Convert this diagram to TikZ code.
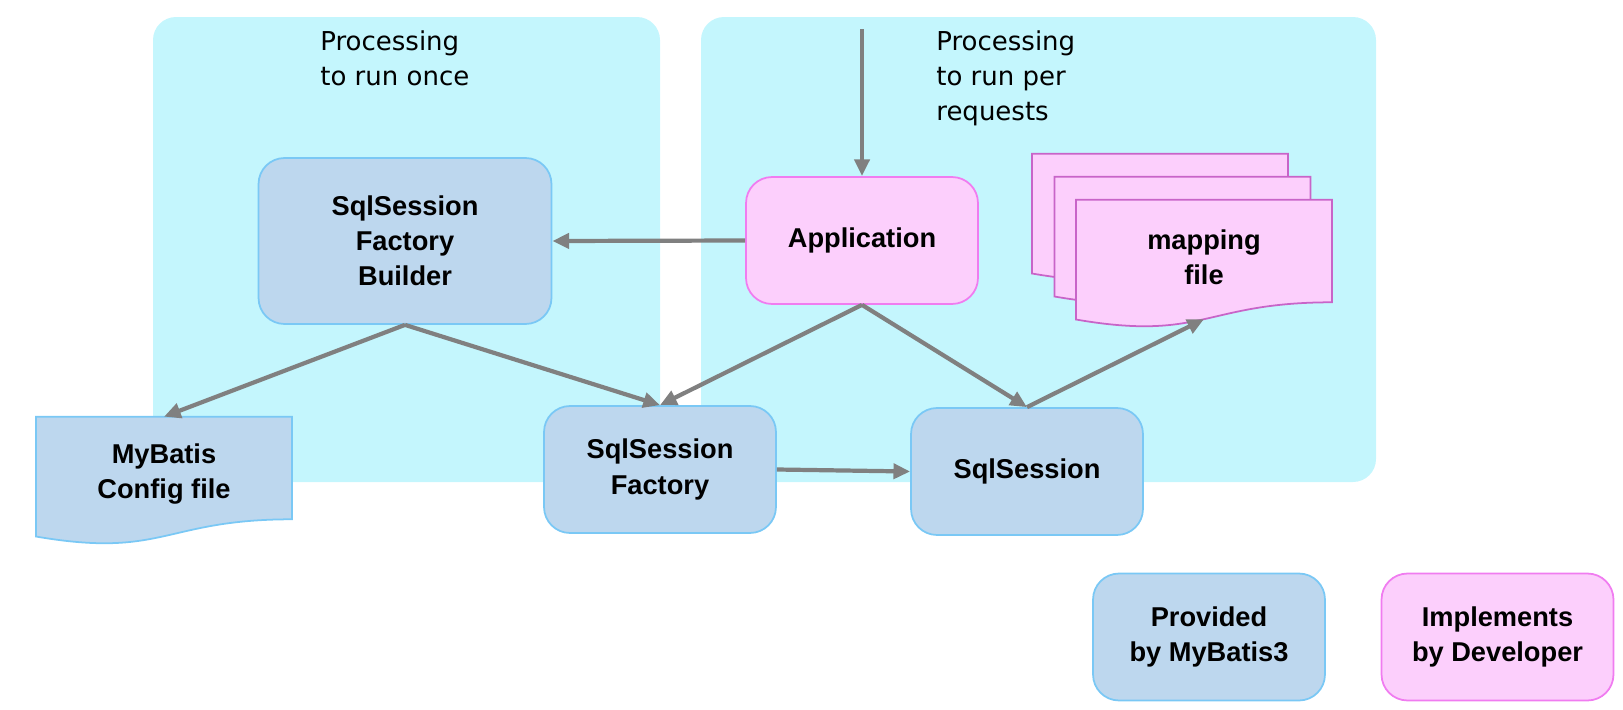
\documentclass[tikz,border=0pt]{standalone}
\usepackage{fontspec}
\setmainfont{Liberation Sans}
\newfontfamily\headfont{DejaVu Sans}
\usetikzlibrary{arrows.meta,calc}
\definecolor{panel}{RGB}{196,246,253}
\definecolor{provfill}{RGB}{189,215,238}
\definecolor{provline}{RGB}{122,200,245}
\definecolor{implfill}{RGB}{252,207,252}
\definecolor{implline}{RGB}{240,124,240}
\definecolor{docline}{RGB}{200,100,200}
\definecolor{arrowgray}{RGB}{128,128,128}
\pgfdeclarelayer{back}
\pgfdeclarelayer{docs}
\pgfsetlayers{back,docs,main}
% outline of a document shape around a named node
\newcommand{\docoutline}[2]{%
  \draw[#1] (#2.north west) -- (#2.north east) -- ($(#2.north east)!0.895!(#2.south east)$)
    .. controls ($(#2.north)!0.895!(#2.south)$) and ($(#2.north)!1.238!(#2.south)$) ..
    ($(#2.north west)!1.045!(#2.south west)$) -- cycle;}

\begin{document}
\begin{tikzpicture}[x=0.02cm,y=-0.02cm,
    box/.style={rounded corners=0.52cm,minimum width=4.64cm,minimum height=2.54cm,align=center,font=\fontsize{15.5}{20}\selectfont\bfseries,line width=1pt},
    prov/.style={box,draw=provline,fill=provfill},
    impl/.style={box,draw=implline,fill=implfill},
    doc/.style={minimum width=5.11cm,minimum height=2.28cm,align=center,inner sep=0pt,font=\fontsize{15.5}{20}\selectfont\bfseries},
    head/.style={anchor=north west,inner sep=0pt,align=left,font=\headfont\fontsize{14.8}{20}\selectfont},
    flow/.style={draw=arrowgray,line width=2.4pt,-{Triangle[length=9.5pt,width=8.5pt]}}]
  \useasboundingbox (0,0) rectangle (1623,710);

  % panels
  \begin{pgfonlayer}{back}
    \fill[panel,rounded corners=0.46cm] (153,17) rectangle (660,482);
    \fill[panel,rounded corners=0.46cm] (701,17) rectangle (1376,482);
  \end{pgfonlayer}
  \node[head] (once) at (320,30) {Processing\\to run once};
  \node[head] (per) at (936,30) {Processing\\to run per\\requests};

  % boxes
  \node[prov,minimum width=5.86cm,minimum height=3.32cm] (builder) at (405,241) {SqlSession\\Factory\\Builder};
  \node[impl] (app) at (862,240.5) {Application};
  \node[prov] (factory) at (660,469.5) {SqlSession\\Factory};
  \node[prov] (session) at (1027,471.5) {SqlSession};
  \node[prov] (provided) at (1209,637) {Provided\\by MyBatis3};
  \node[impl] (implements) at (1497.5,637) {Implements\\by Developer};

  % documents
  \node[doc] (config) at (164,474) {MyBatis\\Config file};
  \node[doc] (mapA) at (1160,211) {};
  \node[doc] (mapB) at (1182.5,234) {};
  \node[doc] (map) at (1204,257) {mapping\\file};
  \begin{pgfonlayer}{docs}
    \docoutline{draw=provline,fill=provfill,line width=1pt}{config}
    \docoutline{draw=docline,fill=implfill,line width=1pt}{mapA}
    \docoutline{draw=docline,fill=implfill,line width=1pt}{mapB}
    \docoutline{draw=docline,fill=implfill,line width=1pt}{map}
  \end{pgfonlayer}

  % arrows
  \coordinate (request) at (862,29);
  \draw[flow] (request) -- (app.north);
  \draw[flow] (app.west) -- (builder.east);
  \draw[flow] (builder.south) -- (config.north);
  \draw[flow] (builder.south) -- (factory.north);
  \draw[flow] (app.south) -- (factory.north);
  \draw[flow] (app.south) -- (session.north);
  \draw[flow] (session.north) -- ($(map.north)!1.042!(map.south)$);
  \draw[flow] (factory.east) -- (session.west);
\end{tikzpicture}
\end{document}
